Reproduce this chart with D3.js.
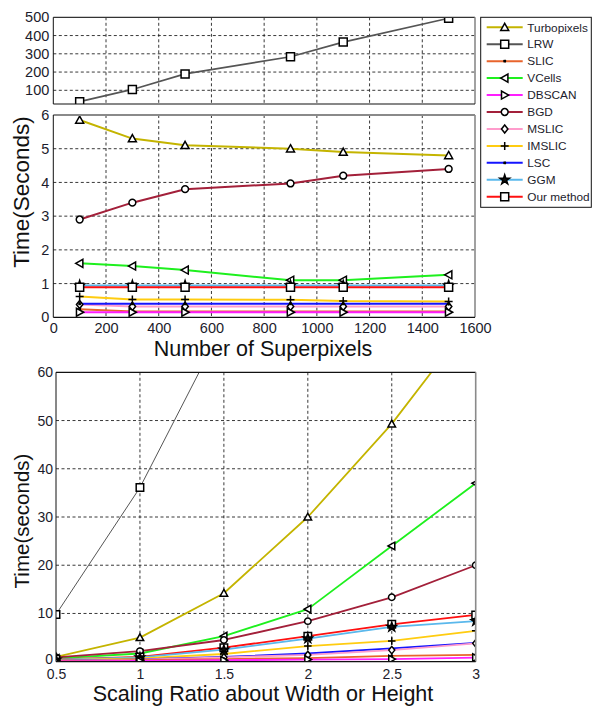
<!DOCTYPE html>
<html><head><meta charset="utf-8">
<script src="https://cdn.jsdelivr.net/npm/d3@7/dist/d3.min.js"></script>
<style>body{margin:0;background:#fff}svg{display:block}</style>
</head><body>
<script>
// ---------------- DATA ----------------
const methods = ["Turbopixels","LRW","SLIC","VCells","DBSCAN","BGD","MSLIC","IMSLIC","LSC","GGM","Our method"];
const colors  = ["#c4b400","#555555","#e8642c","#1ef01e","#ff1eff","#a3203a","#ff9ccc","#ffcc10","#1414ff","#5ab8ec","#ff1010"];
const markers = ["triUp","square","ast","triLeft","triRight","circle","diamond","plus","ast","star","square"];

// Panel 1/2: time vs number of superpixels
const superpixels = [100,300,500,900,1100,1500];
const spTurbopixels = [5.85,5.3,5.1,5.0,4.9,4.8];
const spLRW         = [38,105,190,284,364,495];
const spSLIC        = [0.24,0.17,0.17,0.17,0.17,0.17];
const spVCells      = [1.6,1.52,1.4,1.1,1.1,1.26];
const spDBSCAN      = [0.15,0.15,0.15,0.15,0.15,0.15];
const spBGD         = [2.9,3.4,3.8,3.97,4.2,4.4];
const spMSLIC       = [0.38,0.32,0.32,0.32,0.32,0.32];
const spIMSLIC      = [0.62,0.53,0.53,0.52,0.48,0.47];
const spLSC         = [0.4,0.4,0.4,0.4,0.4,0.4];
const spGGM         = [0.94,0.94,0.94,0.94,0.94,0.94];
const spOurs        = [0.89,0.89,0.89,0.89,0.89,0.89];

// Panel 3: time vs scaling ratio
const scaling = [0.5,1,1.5,2,2.5,3];
const scTurbopixels = [1.0,5.0,14.2,30,49.3,72];
const scLRW         = [9.8,36.1,70,120,190,280];
const scSLIC        = [0.1,0.3,0.55,0.75,1.2,1.4];
const scVCells      = [0.7,1.7,5.3,10.9,24.0,37.0];
const scDBSCAN      = [0.05,0.15,0.3,0.45,0.55,0.85];
const scBGD         = [0.9,2.2,4.5,8.4,13.35,20.0];
const scMSLIC       = [0.15,0.4,0.9,1.4,2.4,3.8];
const scIMSLIC      = [0.3,0.7,1.6,3.25,4.3,6.4];
const scLSC         = [0.2,0.5,1.0,1.7,2.75,3.9];
const scGGM         = [0.4,0.9,2.5,4.8,7.2,8.4];
const scOurs        = [0.5,1.0,2.9,5.3,7.75,9.7];

// Tick labels
const xTicksSuper = [0,200,400,600,800,1000,1200,1400,1600];
const yTicksTop   = [100,200,300,400,500];
const yTicksMid   = [0,1,2,3,4,5,6];
const xTicksScale = [0.5,1,1.5,2,2.5,3];
const yTicksBot   = [0,10,20,30,40,50,60];

const spSeries = [spTurbopixels,spLRW,spSLIC,spVCells,spDBSCAN,spBGD,spMSLIC,spIMSLIC,spLSC,spGGM,spOurs];
const scSeries = [scTurbopixels,scLRW,scSLIC,scVCells,scDBSCAN,scBGD,scMSLIC,scIMSLIC,scLSC,scGGM,scOurs];

// ---------------- DRAW ----------------
const W=592,H=706;
const FONT="'Liberation Sans', Arial, Helvetica, sans-serif";
const TXT="#1c1c2c";
const svg=d3.select("body").append("svg").attr("width",W).attr("height",H)
  .style("font-family",FONT);

function markerPath(type,s){
  const h=s/2;
  switch(type){
    case "triUp":   return `M0,${-h}L${h},${h*0.8}L${-h},${h*0.8}Z`;
    case "triLeft": return `M${-h},0L${h*0.8},${-h}L${h*0.8},${h}Z`;
    case "triRight":return `M${h},0L${-h*0.8},${-h}L${-h*0.8},${h}Z`;
    case "square":  return `M${-h},${-h}H${h}V${h}H${-h}Z`;
    case "diamond": return `M0,${-h}L${h*0.8},0L0,${h}L${-h*0.8},0Z`;
    case "circle":  return d3.arc()({innerRadius:0,outerRadius:h*0.85,startAngle:0,endAngle:2*Math.PI});
    case "plus":    return `M${-h},0H${h}M0,${-h}V${h}`;
    case "ast":     {const a=h*0.45;return `M${-a},${-a}L${a},${a}M${-a},${a}L${a},${-a}M${-a*1.2},0H${a*1.2}`;}
    case "star":    return d3.symbol(d3.symbolStar, s*s*0.45)();
  }
}
function drawMarker(g,type,x,y,s){
  const open = (type==="plus"||type==="ast");
  g.append("path").attr("d",markerPath(type,s)).attr("transform",`translate(${x},${y})`)
    .attr("fill", open?"none":(type==="star"?"#111":"#fff"))
    .attr("stroke","#000").attr("stroke-width", type==="ast"?1.6:1.5);
}

let clipId=0;
function panel(o){
  const g=svg.append("g");
  const x=d3.scaleLinear().domain(o.xd).range([o.l,o.r]);
  const y=d3.scaleLinear().domain(o.yd).range([o.b,o.t]);
  // grid
  const gg=g.append("g").attr("stroke","#222").attr("stroke-width",0.9).attr("stroke-dasharray","3,2.5");
  o.xGrid.forEach(v=>gg.append("line").attr("x1",x(v)).attr("x2",x(v)).attr("y1",o.t).attr("y2",o.b));
  o.yGrid.forEach(v=>gg.append("line").attr("x1",o.l).attr("x2",o.r).attr("y1",y(v)).attr("y2",y(v)));
  // axes via d3
  const ax=g.append("g").attr("transform",`translate(0,${o.b})`)
    .call(d3.axisBottom(x).tickValues(o.xTicks).tickSize(0).tickPadding(o.xPad).tickFormat(o.xFmt||(d=>d)));
  const ay=g.append("g").attr("transform",`translate(${o.l},0)`)
    .call(d3.axisLeft(y).tickValues(o.yTicks).tickSize(0).tickPadding(o.yPad).tickFormat(d=>d));
  [ax,ay].forEach(a=>{a.select(".domain").remove();a.selectAll("text").attr("fill",TXT).style("font-size",o.fs+"px").style("font-family",FONT);});
  if(o.zeroUp) ay.selectAll(".tick").filter(d=>d===0).select("text").attr("dy","0.12em");
  if(!o.showX) ax.remove();
  // clip
  const id="clip"+(clipId++);
  svg.append("clipPath").attr("id",id).append("rect").attr("x",o.l).attr("y",o.t).attr("width",o.r-o.l).attr("height",o.b-o.t);
  const pg=g.append("g").attr("clip-path",`url(#${id})`);
  const line=d3.line().x(d=>x(d[0])).y(d=>y(d[1]));
  o.series.forEach(si=>{
    const pts=o.xs.map((xv,j)=>[xv,o.vals[si][j]]);
    pg.append("path").attr("d",line(pts)).attr("fill","none").attr("stroke",colors[si])
      .attr("stroke-width", si===1?o.lrwW:o.lw).attr("stroke-linejoin","round");
  });
  o.series.forEach(si=>{
    o.xs.forEach((xv,j)=>{
      const v=o.vals[si][j];
      if(v<=o.yd[1]+0.001 && v>=o.yd[0]-0.5) drawMarker(pg,markers[si],x(xv),y(v),markers[si]==="ast"?5:o.ms);
    });
  });
  // frame
  g.append("line").attr("x1",o.l).attr("x2",o.r).attr("y1",o.t).attr("y2",o.t).attr("stroke",o.topC).attr("stroke-width",o.topW);
  g.append("line").attr("x1",o.r).attr("x2",o.r).attr("y1",o.t).attr("y2",o.b).attr("stroke","#8a8a8a").attr("stroke-width",1.6);
  g.append("line").attr("x1",o.l).attr("x2",o.l).attr("y1",o.t).attr("y2",o.b).attr("stroke","#111").attr("stroke-width",1);
  g.append("line").attr("x1",o.l).attr("x2",o.r).attr("y1",o.b).attr("y2",o.b).attr("stroke","#111").attr("stroke-width",1.2);
  return {x,y};
}

// top panel (LRW)
panel({l:53.3,r:475,t:17.3,b:104,xd:[0,1600],yd:[25,500],xGrid:[200,400,600,800,1000,1200,1400],yGrid:[100,200,300,400],
  xTicks:xTicksSuper,yTicks:yTicksTop,showX:false,xPad:6,yPad:4,fs:14.5,
  xs:superpixels,vals:spSeries,series:[1],lw:2,lrwW:1.6,ms:8,topC:"#333",topW:1.2});
// middle panel
panel({l:53.3,r:475,t:115,b:317.3,xd:[0,1600],yd:[0,6],xGrid:[200,400,600,800,1000,1200,1400],yGrid:[1,2,3,4,5],
  xTicks:xTicksSuper,yTicks:yTicksMid,showX:true,xPad:5,yPad:4,fs:14.5,
  xs:superpixels,vals:spSeries,series:[0,2,3,5,6,7,8,4,9,10],lw:2,lrwW:1.6,ms:8,topC:"#8a8a8a",topW:2});
// bottom panel
panel({l:56,r:475.7,t:372.3,b:661.7,xd:[0.5,3],yd:[0,60],xGrid:[1,1.5,2,2.5],yGrid:[10,20,30,40,50],
  xTicks:xTicksScale,yTicks:yTicksBot,showX:true,xPad:7,yPad:3,fs:14,zeroUp:true,
  xs:scaling,vals:scSeries,series:[1,0,3,5,10,9,7,8,6,2,4],lw:1.8,lrwW:1,ms:7.5,topC:"#111",topW:1.2});

// axis titles
svg.append("text").attr("x",263).attr("y",356).attr("text-anchor","middle").style("font-size","21.5px").attr("fill","#111").text("Number of Superpixels");
svg.append("text").attr("x",263).attr("y",701).attr("text-anchor","middle").style("font-size","21.5px").attr("fill","#111").text("Scaling Ratio about Width or Height");
svg.append("text").attr("transform","translate(29,192) rotate(-90)").attr("text-anchor","middle").style("font-size","22.5px").attr("fill","#111").text("Time(Seconds)");
svg.append("text").attr("transform","translate(29,521) rotate(-90)").attr("text-anchor","middle").style("font-size","20.5px").attr("fill","#111").text("Time(seconds)");

// legend
const lg=svg.append("g");
lg.append("rect").attr("x",480.7).attr("y",17.3).attr("width",110.6).attr("height",190).attr("fill","#fff").attr("stroke","#111").attr("stroke-width",1);
methods.forEach((m,i)=>{
  const yy=27.3+i*16.94;
  lg.append("line").attr("x1",486.7).attr("x2",522.7).attr("y1",yy).attr("y2",yy).attr("stroke",colors[i]).attr("stroke-width",2);
  drawMarker(lg,markers[i],504.7,yy,markers[i]==="ast"?5:8);
  lg.append("text").attr("x",527.3).attr("y",yy+4.2).style("font-size","11.8px").attr("fill",TXT).text(m);
});
</script>
</body></html>
